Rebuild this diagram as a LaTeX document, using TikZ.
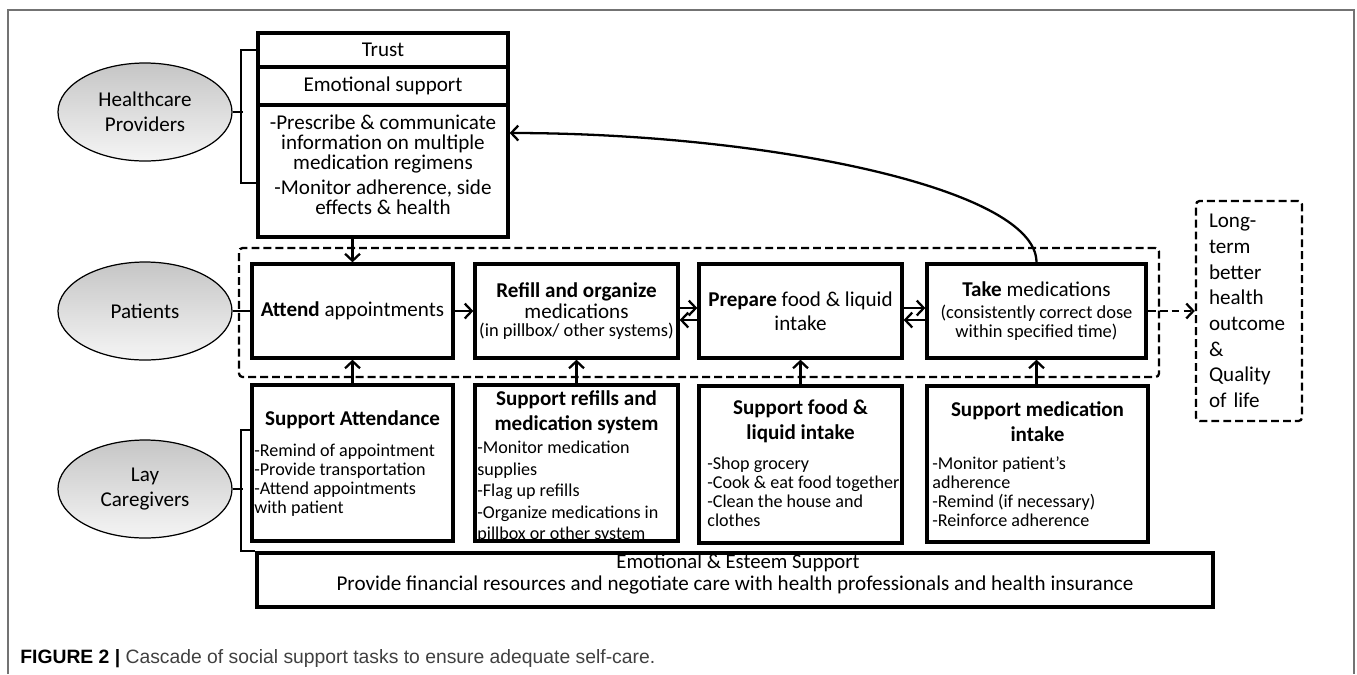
\documentclass[tikz,border=0pt]{standalone}
\usepackage{fontspec}
\setmainfont{Carlito}
\newfontfamily\capfont{Liberation Sans}
\usetikzlibrary{arrows.meta,shapes.geometric,shadows}

\tikzset{
  box/.style={draw, line width=1.9pt, inner sep=1pt, align=center, font=\fontsize{12}{14.2}\selectfont},
  sz/.style 2 args={minimum width=#1*0.02cm, minimum height=#2*0.02cm},
  role/.style={ellipse, draw, line width=0.7pt, top color=gray!45, bottom color=gray!8, sz={174}{98}, align=center, font=\fontsize{12}{14.2}\selectfont},
  grp/.style={draw, dash pattern=on 4.5pt off 2.3pt, line width=1.3pt, rounded corners=2pt},
  link/.style={line width=1.3pt},
  arr/.style={line width=1.3pt, -{Straight Barb[length=4pt,width=8.5pt]}},
  head/.style={align=center, inner sep=0pt, font=\bfseries\fontsize{12}{14.2}\selectfont},
  body/.style={align=left, inner sep=0pt, anchor=west, font=\fontsize{10.3}{10.8}\selectfont},
}

\begin{document}
\begin{tikzpicture}[x=0.02cm, y=-0.02cm]
  \useasboundingbox (0,0) rectangle (1357,674);
  \draw[black!55, line width=0.7pt] (8,674) -- (8,10) -- (1354,10) -- (1354,674);
  \coordinate (brk) at (243,0);

  % healthcare providers
  \node[role] (hcp) at (145,112) {Healthcare\\Providers};
  \node[box, sz={250}{34}] (trust) at (383,50) {Trust};
  \node[box, sz={250}{38}] (emo) at (383,86) {Emotional support};
  \node[box, sz={250}{132}] (presc) at (383,171) {};
  \node[align=center, inner sep=0pt, font=\fontsize{12}{11.4}\selectfont] (prescT) at (383,165)
    {-Prescribe \& communicate\\information on multiple\\medication regimens\\[3pt]-Monitor adherence, side\\effects \& health};

  % patients
  \node[role] (pat) at (145,311) {Patients};
  \node[grp, sz={920}{129}] (grp) at (699,312.5) {};
  \node[box, sz={201}{94}] (attend) at (352.5,311) {\textbf{Attend} appointments};
  \node[box, sz={203}{94}, font=\fontsize{12}{10.5}\selectfont] (refill) at (576.5,311)
    {\textbf{Refill and organize}\\[1.5pt]medications\\{\fontsize{10.5}{10.5}\selectfont (in pillbox/ other systems)}};
  \node[box, sz={203}{94}, font=\fontsize{12}{13.6}\selectfont] (prep) at (800.5,311)
    {\textbf{Prepare} food \& liquid\\intake};
  \node[box, sz={219}{94}, font=\fontsize{12}{11}\selectfont] (take) at (1036.5,311)
    {\textbf{Take} medications\\[1.5pt]{\fontsize{10.5}{11}\selectfont (consistently correct dose}\\{\fontsize{10.5}{11}\selectfont within specified time)}};
  \node[grp, sz={106}{220}, align=left, text width=1.6cm, font=\fontsize{12}{14.6}\selectfont] (out) at (1249,311)
    {Long-\\term\\better\\health\\outcome\\\&\\Quality\\of life};

  % lay caregivers
  \node[role] (lay) at (145,489) {Lay\\Caregivers};
  \node[box, sz={201}{156}] (sAtt) at (352.5,463) {};
  \node[head] (sAttT) at (352.5,420) {Support Attendance};
  \node[body] (sAttB) at (254,480) {-Remind of appointment\\-Provide transportation\\-Attend appointments\\with patient};
  \node[box, sz={203}{156}] (sRef) at (576.5,463) {};
  \node[head] (sRefT) at (576.5,412.5) {Support refills and\\medication system};
  \node[body, font=\fontsize{10.3}{12.2}\selectfont] (sRefB) at (477,492) {-Monitor medication\\supplies\\-Flag up refills\\-Organize medications in\\pillbox or other system};
  \node[box, sz={203}{157}] (sFood) at (800.5,464.5) {};
  \node[head] (sFoodT) at (800.5,421.5) {Support food \&\\liquid intake};
  \node[body] (sFoodB) at (707,491.5) {-Shop grocery\\-Cook \& eat food together\\-Clean the house and\\clothes};
  \node[box, sz={221}{156}] (sMed) at (1037.5,464) {};
  \node[head] (sMedT) at (1037.5,421.5) {Support medication\\intake};
  \node[body] (sMedB) at (932,491.5) {-Monitor patient's\\adherence\\-Remind (if necessary)\\-Reinforce adherence};
  \node[box, sz={956}{54}, fill=white, drop shadow={shadow xshift=1.2pt, shadow yshift=-1.2pt, opacity=0.6}] (fin) at (735,580) {};
  \node[inner sep=0pt, font=\fontsize{11.8}{14}\selectfont] (esteem) at (738,563) {Emotional \& Esteem Support};
  \node[inner sep=0pt, font=\fontsize{12}{14}\selectfont] (finance) at (735,585) {Provide financial resources and negotiate care with health professionals and health insurance};

  % brackets
  \draw[link] (trust.west) -- ++(-15,0) -- ++(0,133) -- ++(15,0);
  \draw[link] (hcp.east) -- (hcp.east -| brk);
  \draw[link] (pat) -- (attend);
  \draw[link] ([yshift=0.66cm]sAtt.west) -- ++(-9,0) |- (fin.north west);
  \draw[link] (lay.east) -- (lay.east -| brk);

  % arrows
  \draw[arr] (presc.south -| attend.north) -- (attend.north);
  \draw[arr] (attend) -- (refill);
  \draw[arr] ([yshift=0.06cm]refill.east) -- ([yshift=0.06cm]prep.west);
  \draw[arr] ([yshift=-0.18cm]prep.west) -- ([yshift=-0.18cm]refill.east);
  \draw[arr] ([yshift=0.06cm]prep.east) -- ([yshift=0.06cm]take.west);
  \draw[arr] ([yshift=-0.18cm]take.west) -- ([yshift=-0.18cm]prep.east);
  \draw[arr, dash pattern=on 4.5pt off 2.3pt] (take) -- (out);
  \foreach \s/\p in {sAtt/attend, sRef/refill, sFood/prep, sMed/take}
    \draw[arr] (\p.south |- \s.north) -- (\p.south);
  \draw[arr] (take.north) .. controls +(0,-75) and +(252,0) .. ([yshift=0.76cm]presc.east);

  % caption
  \node[anchor=west, inner sep=0pt, font=\capfont\fontsize{11}{13}\selectfont] (cap) at (20,659)
    {\textbf{FIGURE 2} \textbf{|} {\color{black!75}Cascade of social support tasks to ensure adequate self-care.}};
\end{tikzpicture}
\end{document}
